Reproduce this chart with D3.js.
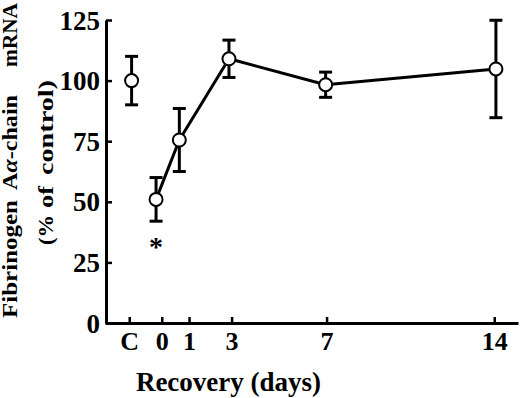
<!DOCTYPE html>
<html><head><meta charset="utf-8">
<script src="https://cdn.jsdelivr.net/npm/d3@7/dist/d3.min.js"></script>
<style>
body{margin:0;background:#fff}
text{font-family:"Liberation Serif","Times New Roman",serif;font-weight:bold;fill:#000}
</style>
</head><body><svg id="c" width="520" height="398"></svg>
<script>
// ---- data ----
const tickLabels = ["C", "0", "1", "3", "7", "14"];
const tickDays   = [-1.37, 0, 1.15, 2.94, 6.94, 14];
const pointDays  = [-1.27, -0.24, 0.74, 2.83, 6.90, 14.07];
const meanValues = [100, 51, 75.5, 109, 98.3, 104.8];
const errorValues = [10, 9, 13, 7.7, 5.2, 20.1];
const connected  = [false, true, true, true, true, true];
const significant = [false, true, false, false, false, false];
const yTicks = [0, 25, 50, 75, 100, 125];
const xTitle = "Recovery (days)";

const svg = d3.select("#c");
svg.append("rect").attr("width",520).attr("height",398).attr("fill","#fff");

const x = d3.scaleLinear().domain([-2.39, 15]).range([105, 518]);
const y = d3.scaleLinear().domain([0, 125]).range([323, 20]);

// axes
const gx = svg.append("g").attr("transform","translate(0,323)")
  .call(d3.axisBottom(x).tickValues(tickDays).tickFormat((d,i)=>tickLabels[i])
        .tickSizeInner(-6).tickSizeOuter(0).tickPadding(8.5));
const gy = svg.append("g").attr("transform","translate(106,0)")
  .call(d3.axisLeft(y).tickValues(yTicks).tickSizeInner(-6).tickSizeOuter(0).tickPadding(6));
[gx,gy].forEach(g=>{
  g.select(".domain").attr("stroke","#000").attr("stroke-width",3);
  g.selectAll(".tick line").attr("stroke","#000").attr("stroke-width",2.5);
  g.selectAll(".tick text").attr("fill","#000").style("font-size","26px")
   .style("font-family",'"Liberation Serif","Times New Roman",serif').style("font-weight","bold");
});
gy.selectAll(".tick text").attr("dy","0.34em").style("font-size","27px");

const pts = pointDays.map((d,i)=>({d, m:meanValues[i], e:errorValues[i], c:connected[i], s:significant[i]}));

// error bars
const eb = svg.append("g").attr("stroke","#000").attr("stroke-width",3).attr("fill","none");
pts.forEach(p=>{
  const cx = x(p.d);
  eb.append("line").attr("x1",cx).attr("x2",cx).attr("y1",y(p.m+p.e)).attr("y2",y(p.m-p.e));
  eb.append("line").attr("x1",cx-6.5).attr("x2",cx+6.5).attr("y1",y(p.m+p.e)).attr("y2",y(p.m+p.e));
  eb.append("line").attr("x1",cx-6.5).attr("x2",cx+6.5).attr("y1",y(p.m-p.e)).attr("y2",y(p.m-p.e));
});

// line
svg.append("path").datum(pts.filter(p=>p.c))
  .attr("fill","none").attr("stroke","#000").attr("stroke-width",3).attr("stroke-linejoin","round")
  .attr("d", d3.line().x(p=>x(p.d)).y(p=>y(p.m)));

// points
svg.append("g").selectAll("circle").data(pts).join("circle")
  .attr("cx",p=>x(p.d)).attr("cy",p=>y(p.m)).attr("r",6.5)
  .attr("fill","#fff").attr("stroke","#000").attr("stroke-width",2);

// significance
svg.append("g").selectAll("text").data(pts.filter(p=>p.s)).join("text")
  .attr("x",p=>x(p.d)).attr("y",p=>y(p.m-p.e)+35).attr("text-anchor","middle")
  .style("font-size","28px").text("*");

// x title
svg.append("text").attr("x",228.5).attr("y",391).attr("text-anchor","middle")
  .style("font-size","27px").text(xTitle);

// y title (rotated, two lines, word by word)
function yWord(bx, sy, ey, parts){
  const t = svg.append("text").attr("transform",`translate(${bx},${sy}) rotate(-90)`)
    .attr("textLength", sy-ey).attr("lengthAdjust","spacingAndGlyphs")
    .style("font-size","22px");
  parts.forEach(([s,it])=>t.append("tspan").style("font-style",it?"italic":"normal").text(s));
}
yWord(17, 318, 200, [["Fibrinogen"]]);
yWord(17, 190, 95, [["A"],["α",true],["-chain"]]);
yWord(17, 67, 3, [["mRNA"]]);
yWord(53, 245, 215, [["(%"]]);
yWord(53, 208, 186, [["of"]]);
yWord(53, 175, 80, [["control)"]]);
</script></body></html>
